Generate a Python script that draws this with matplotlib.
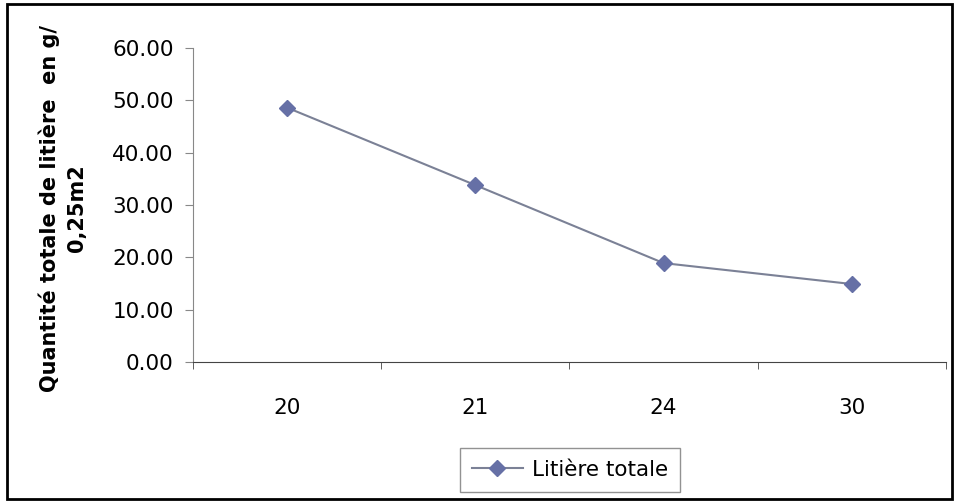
import matplotlib
matplotlib.use("Agg")
from matplotlib import pyplot as plt
from matplotlib.patches import Rectangle
from matplotlib.ticker import FormatStrFormatter

# data
categories = ['20', '21', '24', '30']
litiere = [48.6, 33.8, 18.9, 14.9]
y_ticks = [0, 10, 20, 30, 40, 50, 60]

plt.rcParams['font.family'] = 'DejaVu Sans'

fig = plt.figure(figsize=(9.56, 5.01), dpi=100)
ax = fig.add_axes([0.2019, 0.2774, 0.7876, 0.6268])

x = list(range(len(categories)))
ax.plot(x, litiere, color='#7b8196', linewidth=1.5, marker='D', markersize=8,
        markerfacecolor='#6670a6', markeredgecolor='#6670a6', label='Litière totale')

ax.set_xlim(-0.5, len(categories) - 0.5)
ax.set_ylim(0, 60)
ax.set_yticks(y_ticks)
ax.yaxis.set_major_formatter(FormatStrFormatter('%.2f'))

# category labels centred, tick marks between categories (Excel style)
ax.set_xticks(x)
ax.set_xticklabels(categories)
ax.set_xticks([i - 0.5 for i in range(len(categories) + 1)], minor=True)
ax.tick_params(axis='x', which='major', length=0, pad=26, labelsize=15.5)
ax.tick_params(axis='x', which='minor', length=5, color='#444444', direction='out')
ax.tick_params(axis='y', length=6, color='#888888', pad=8, labelsize=15.5)

for side in ['top', 'right']:
    ax.spines[side].set_visible(False)
ax.spines['left'].set_color('#888888')
ax.spines['bottom'].set_color('#444444')

ax.set_ylabel('Quantité totale de litière  en g/\n0,25m2', fontsize=15,
              fontweight='bold', linespacing=1.45)
ax.yaxis.set_label_coords(-0.141, 0.49)

leg = fig.legend(loc='center', bbox_to_anchor=(0.596, 0.062), fontsize=15.5,
                 frameon=True, fancybox=False, handlelength=2.4,
                 handletextpad=0.4, borderpad=0.55)
leg.get_frame().set_edgecolor('#777777')
leg.get_frame().set_linewidth(1.0)

# outer chart border
fig.patches.append(Rectangle((0.007, 0.004), 0.989, 0.989, transform=fig.transFigure,
                             fill=False, edgecolor='black', linewidth=2))

plt.savefig('out.png', dpi=100)
plt.close()
